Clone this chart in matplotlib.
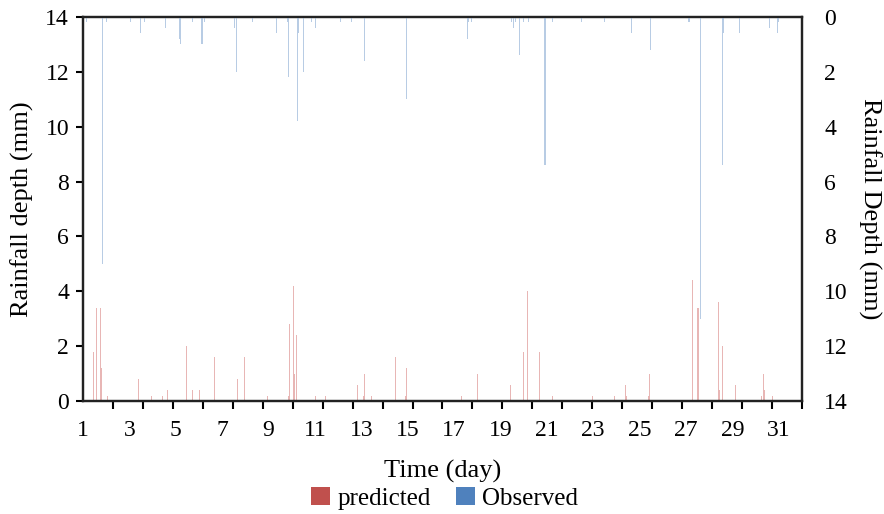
import matplotlib
matplotlib.use("Agg")
import matplotlib.pyplot as plt
from matplotlib.patches import Patch
import numpy as np

plt.rcParams['font.family'] = ['Liberation Serif', 'DejaVu Serif']

# Predicted rainfall (left axis, bars from bottom)
pred_day = [1.44, 1.57, 1.75, 1.78, 2.05, 3.38, 3.95, 4.42, 4.64, 5.45, 5.71, 6.02,
            6.66, 7.65, 7.96, 8.95, 9.85, 9.90, 10.07, 10.10, 10.20, 11.03, 11.47,
            12.83, 13.09, 13.13, 13.45, 14.47, 14.92, 14.94, 17.33, 18.00, 19.43,
            19.99, 20.16, 20.68, 21.24, 22.96, 23.91, 24.38, 24.45, 25.38, 25.42,
            27.29, 27.51, 27.53, 28.41, 28.43, 28.57, 29.13, 30.25, 30.34, 30.37, 30.72]
pred_val = [1.8, 3.4, 3.4, 1.2, 0.2, 0.8, 0.2, 0.2, 0.4, 2.0, 0.4, 0.4,
            1.6, 0.8, 1.6, 0.2, 0.2, 2.8, 4.2, 1.0, 2.4, 0.2, 0.2,
            0.6, 0.2, 1.0, 0.2, 1.6, 0.2, 1.2, 0.2, 1.0, 0.6,
            1.8, 4.0, 1.8, 0.2, 0.2, 0.2, 0.6, 0.2, 0.2, 1.0,
            4.4, 3.4, 3.4, 3.6, 0.4, 2.0, 0.6, 0.2, 1.0, 0.4, 0.2]

# Observed rainfall (right inverted axis, bars from top)
obs_day = [1.16, 1.83, 1.86, 2.02, 3.04, 3.47, 3.66, 4.57, 5.15, 5.19, 5.71, 6.13,
           6.22, 7.52, 7.61, 8.30, 9.34, 9.81, 9.87, 10.24, 10.27, 10.50, 10.84,
           11.03, 12.11, 12.57, 13.13, 14.94, 17.57, 17.60, 17.74, 19.49, 19.56,
           19.63, 19.81, 19.99, 20.20, 20.92, 20.96, 21.24, 22.49, 23.48, 24.63,
           24.66, 25.46, 27.13, 27.62, 28.58, 28.61, 29.30, 30.61, 30.94, 30.98]
obs_val = [0.2, 9.0, 0.4, 0.2, 0.2, 0.6, 0.2, 0.4, 0.8, 1.0, 0.2, 1.0,
           0.2, 0.4, 2.0, 0.2, 0.6, 0.2, 2.2, 3.8, 0.6, 2.0, 0.2,
           0.4, 0.2, 0.2, 1.6, 3.0, 0.8, 0.2, 0.2, 0.2, 0.4,
           0.2, 1.4, 0.2, 0.2, 5.4, 0.2, 0.2, 0.2, 0.2, 0.2,
           0.6, 1.2, 0.2, 11.0, 5.4, 0.6, 0.6, 0.4, 0.6, 0.2]

x_labels = list(range(1, 32, 2))
y_ticks = list(range(0, 15, 2))

fig = plt.figure(figsize=(8.84, 5.14), dpi=100)
ax = fig.add_axes([0.0939, 0.2198, 0.8133, 0.7472])
ax2 = ax.twinx()

bw = 1 / 24 * 1.1
ax.bar(pred_day, pred_val, width=bw, color='#e8b6b5', linewidth=0, align='center')
ax2.bar(obs_day, obs_val, width=bw, color='#b8cce4', linewidth=0, align='center')

ax.set_xlim(1, 32)
ax.set_ylim(0, 14)
ax2.set_ylim(14, 0)

ax.set_yticks(y_ticks)
ax2.set_yticks(y_ticks)
ax.set_xticks(x_labels)
ax.set_xticklabels([str(v) for v in x_labels])
ax.set_xticks([1 + k * 31 / 24 for k in range(25)], minor=True)

ax.tick_params(axis='x', which='major', length=0, pad=14, labelsize=17)
ax.tick_params(axis='x', which='minor', length=6, width=1.5, direction='out')
ax.tick_params(axis='y', length=5, width=1.5, labelsize=17, pad=5)
ax2.tick_params(axis='y', length=0, width=1.5, labelsize=17, pad=16)

for a in (ax, ax2):
    for s in a.spines.values():
        s.set_linewidth(1.6)
        s.set_color('#222222')

ax.set_ylabel('Rainfall depth (mm)', fontsize=19, labelpad=8)
ax2.set_ylabel('Rainfall Depth (mm)', fontsize=19, rotation=270, labelpad=24)
ax.set_xlabel('Time (day)', fontsize=19, labelpad=13)

handles = [Patch(facecolor='#c0504d', edgecolor='none', label='predicted'),
           Patch(facecolor='#4f81bd', edgecolor='none', label='Observed')]
fig.legend(handles=handles, loc='center', bbox_to_anchor=(0.503, 0.03), ncol=2,
           frameon=False, fontsize=18, handlelength=0.75, handleheight=0.75,
           handletextpad=0.3, columnspacing=1.0)

fig.savefig('out.png', dpi=100)
